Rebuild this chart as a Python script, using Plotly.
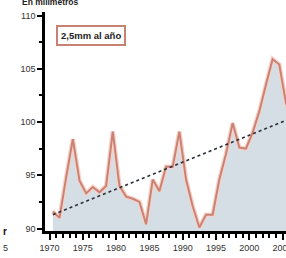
import plotly.graph_objects as go

# ---- data ----
years = list(range(1970, 2007))
values = [91.6, 91.0, 94.8, 98.4, 94.5, 93.3, 93.9, 93.4, 94.0, 99.1,
          94.0, 93.0, 92.8, 92.5, 90.4, 94.6, 93.5, 95.8, 95.8, 99.1,
          94.6, 92.1, 90.1, 91.3, 91.3, 94.6, 97.0, 99.9, 97.6, 97.5,
          99.0, 101.0, 103.5, 105.9, 105.4, 101.8, 100.0]
trend_years = [1970, 2006]
trend_values = [91.3, 100.4]
x_tick_years = [1970, 1975, 1980, 1985, 1990, 1995, 2000, 2005]
x_tick_labels = ["1970", "1975", "1980", "1985", "1990", "1995", "2000", "2005"]
y_tick_values = [90, 95, 100, 105, 110]
y_tick_labels = ["90", "95", "100", "105", "110"]
unit_label = "En milímetros"
trend_label = "<b>2,5mm al año</b>"

# values are plotted at mid-year
xm = [y + 0.5 for y in years]
txm = [y + 0.5 for y in trend_years]

fig = go.Figure()
fig.add_trace(go.Scatter(x=xm, y=values, mode="lines", fill="tozeroy",
                         fillcolor="#d5dde5", line=dict(color="rgba(0,0,0,0)", width=0),
                         hoverinfo="skip"))
fig.add_trace(go.Scatter(x=xm, y=values, mode="lines",
                         line=dict(color="#f3d3cc", width=4.5), hoverinfo="skip"))
fig.add_trace(go.Scatter(x=xm, y=values, mode="lines",
                         line=dict(color="#cc8272", width=2)))
fig.add_trace(go.Scatter(x=txm, y=trend_values, mode="lines",
                         line=dict(color="#2b3038", width=1.6, dash="dot")))

fig.update_layout(
    width=286, height=258,
    margin=dict(l=45, r=0, t=12, b=26.5),
    paper_bgcolor="white", plot_bgcolor="white",
    showlegend=False,
    font=dict(family="Liberation Sans, Arial, sans-serif", color="#333333", size=9),
    xaxis=dict(range=[1969.32, 2005.51], tickmode="array", tickvals=x_tick_years,
               ticktext=x_tick_labels, showgrid=False, zeroline=False,
               automargin=False, ticklabeloverflow="allow",
               showline=True, linecolor="black", linewidth=2.5,
               ticks="outside", ticklen=6, tickwidth=2, tickcolor="black",
               minor=dict(dtick=1, tick0=1970, ticks="outside", ticklen=4,
                          tickwidth=1.5, tickcolor="black", showgrid=False),
               tickfont=dict(size=9, color="#333333")),
    yaxis=dict(range=[89.77, 110.33], tickmode="array", tickvals=y_tick_values,
               ticktext=y_tick_labels, showgrid=False, zeroline=False,
               automargin=False,
               showline=True, linecolor="black", linewidth=2.5,
               ticks="outside", ticklen=5, tickwidth=2, tickcolor="black",
               minor=dict(dtick=2.5, tick0=90, ticks="outside", ticklen=3,
                          tickwidth=1.5, tickcolor="black", showgrid=False),
               tickfont=dict(size=9, color="#333333")),
)

fig.add_annotation(xref="paper", yref="paper", x=-0.104, y=1.0456,
                   xanchor="left", yanchor="middle", showarrow=False,
                   text="<b>" + unit_label + "</b>",
                   font=dict(size=8.5, color="#222222"))
fig.add_annotation(xref="paper", yref="paper", x=0.189, y=0.8907,
                   xanchor="center", yanchor="middle", showarrow=False,
                   text=trend_label, font=dict(size=9.5, color="#222222"),
                   bordercolor="#c88274", borderwidth=2, borderpad=3,
                   bgcolor="white")
# fragments of the neighbouring chart at the left edge
fig.add_annotation(xref="paper", yref="paper", x=-0.165, y=0.0,
                   xanchor="center", yanchor="middle", showarrow=False,
                   text="<b>r</b>", font=dict(size=10, color="#111111"))
fig.add_annotation(xref="paper", yref="paper", x=-0.165, y=-0.078,
                   xanchor="center", yanchor="middle", showarrow=False,
                   text="5", font=dict(size=9, color="#333333"))

fig.write_html("out.html",
               config={"displayModeBar": False},
               post_script="document.body.style.margin='0';"
                           "document.body.style.padding='0';"
                           "document.body.style.overflow='hidden';")
